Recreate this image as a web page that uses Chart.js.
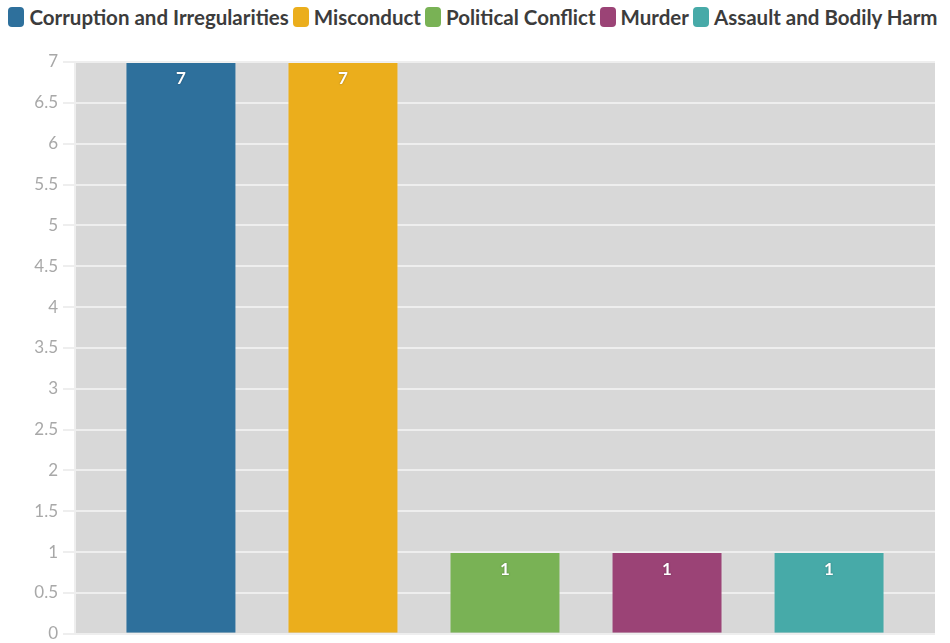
<!DOCTYPE html>
<html>
<head>
<meta charset="utf-8">
<script src="https://cdn.jsdelivr.net/npm/chart.js@4/dist/chart.umd.min.js"></script>
<style>
  html, body { margin: 0; padding: 0; background: #fff; overflow: hidden; }
  #wrap { position: relative; width: 950px; height: 643px; overflow: hidden; }
  #legend {
    position: absolute; top: 5px; left: 0; width: 950px;
    display: flex; justify-content: center; align-items: center;
    font-family: Lato, "Open Sans", sans-serif; font-weight: bold; font-size: 20.5px; color: #3c3c3c;
  }
  #legend .item { display: flex; align-items: center; margin-right: 4px; white-space: nowrap; }
  #legend .box { width: 16px; height: 20px; border-radius: 4px; margin-right: 5px; }
  canvas { position: absolute; top: 0; left: 0; }
</style>
</head>
<body>
<div id="wrap">
  <div id="legend"></div>
  <canvas id="chart" width="950" height="649"></canvas>
</div>
<script>
(function () {
  'use strict';

  var seriesNames = ['Corruption and Irregularities', 'Misconduct', 'Political Conflict', 'Murder', 'Assault and Bodily Harm'];
  var seriesValues = [7, 7, 1, 1, 1];
  var seriesColors = ['#2e709c', '#ebae1c', '#79b255', '#9b4376', '#47aaa8'];
  var yMin = 0;
  var yMax = 7;
  var yStep = 0.5;

  // html legend (tighter box/text spacing than the built-in one)
  var legendEl = document.getElementById('legend');
  seriesNames.forEach(function (name, i) {
    var item = document.createElement('div');
    item.className = 'item';
    var box = document.createElement('div');
    box.className = 'box';
    box.style.background = seriesColors[i];
    var txt = document.createElement('span');
    txt.textContent = name;
    item.appendChild(box);
    item.appendChild(txt);
    legendEl.appendChild(item);
  });

  var plotBg = {
    id: 'plotBg',
    beforeDraw: function (chart) {
      var a = chart.chartArea;
      var ctx = chart.ctx;
      ctx.save();
      ctx.fillStyle = '#d8d8d8';
      ctx.fillRect(a.left, a.top, a.right - a.left, a.bottom - a.top);
      ctx.restore();
    }
  };

  var valueLabels = {
    id: 'valueLabels',
    afterDatasetsDraw: function (chart) {
      var ctx = chart.ctx;
      ctx.save();
      ctx.font = 'bold 17px Lato, "Open Sans", sans-serif';
      ctx.fillStyle = '#ffffff';
      ctx.textAlign = 'center';
      ctx.textBaseline = 'middle';
      ctx.shadowColor = 'rgba(0,0,0,0.35)';
      ctx.shadowBlur = 2;
      chart.data.datasets.forEach(function (ds, i) {
        chart.getDatasetMeta(i).data.forEach(function (el, j) {
          ctx.fillText(String(ds.data[j]), el.x, el.y + 17);
        });
      });
      ctx.restore();
    }
  };

  var datasets = seriesNames.map(function (name, i) {
    return {
      label: name,
      data: [seriesValues[i]],
      backgroundColor: seriesColors[i],
      borderColor: 'rgba(255,255,255,0.2)',
      borderWidth: 1,
      categoryPercentage: 0.942,
      barPercentage: 0.685
    };
  });

  new Chart(document.getElementById('chart'), {
    type: 'bar',
    data: { labels: [''], datasets: datasets },
    plugins: [plotBg, valueLabels],
    options: {
      responsive: false,
      animation: false,
      layout: { padding: { top: 62, right: 15, bottom: 0, left: 0 } },
      plugins: { legend: { display: false }, tooltip: { enabled: false } },
      scales: {
        x: { display: false },
        y: {
          min: yMin,
          max: yMax,
          afterFit: function (s) { s.width = 75; },
          grid: { color: '#eeeeee', lineWidth: 2, tickLength: 12 },
          border: { display: true, color: '#eeeeee', width: 2 },
          ticks: {
            stepSize: yStep,
            padding: 5,
            color: '#a8a8a8',
            font: { family: 'Lato, "Open Sans", sans-serif', size: 17 },
            callback: function (v) { return String(Math.round(v * 10) / 10); }
          }
        }
      }
    }
  });
})();
</script>
</body>
</html>
